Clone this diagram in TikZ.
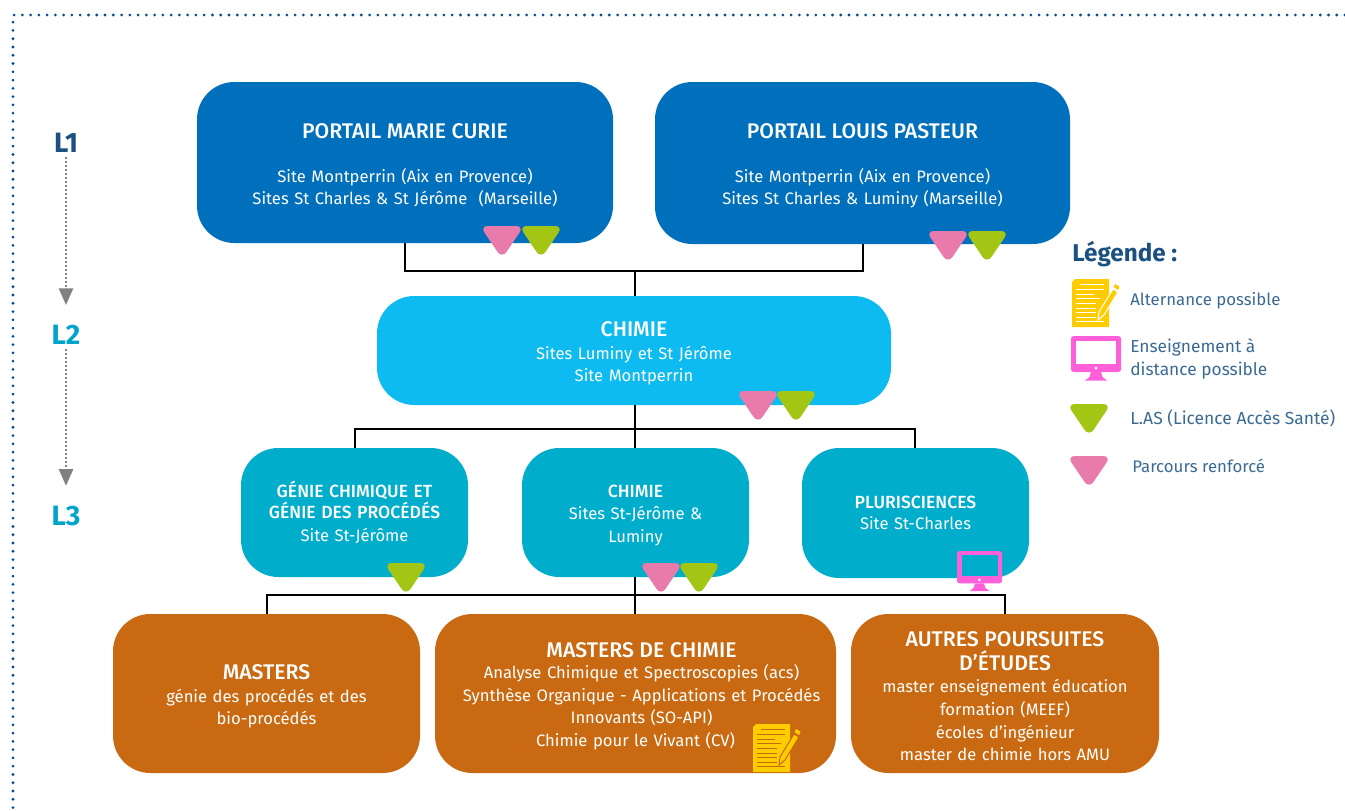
\documentclass[tikz,border=0pt]{standalone}
\usepackage{fontspec}
\setmainfont{Fira Sans}
\newfontfamily\medf{Fira Sans Medium}
\usetikzlibrary{arrows.meta}
\definecolor{cblue}{HTML}{0070BC}
\definecolor{ccyan}{HTML}{0DBBF0}
\definecolor{cteal}{HTML}{00AECC}
\definecolor{corange}{HTML}{C96A12}
\definecolor{cpink}{HTML}{E87BAC}
\definecolor{cgreen}{HTML}{A3C614}
\definecolor{cmag}{HTML}{FF5FD8}
\definecolor{cyel}{HTML}{FFCC00}
\definecolor{cnavy}{HTML}{1B5080}
\definecolor{cdot}{HTML}{0B4A8A}
\definecolor{cltext}{HTML}{3A6A94}
\definecolor{clev}{HTML}{00A3CC}
\newcommand{\ttl}[1]{{\fontsize{15.9}{16.9}\selectfont\medf #1}}
\newcommand{\tts}[1]{{\fontsize{13.2}{16.9}\selectfont\medf #1}}
\newcommand{\topsp}[1]{\rule{0pt}{#1}}
\newcommand{\mybox}[7]{%
  \pgfmathsetmacro{\bcx}{(#2+#3)/2}\pgfmathsetmacro{\bcy}{(#4+#5)/2}%
  \pgfmathsetmacro{\bwd}{(#3-#2)*0.75}\pgfmathsetmacro{\bht}{(#5-#4)*0.75}%
  \node[boxn,fill=#6,minimum width=\bwd pt,minimum height=\bht pt,text width=\bwd pt] (#1) at (\bcx,\bcy) {#7};}
\tikzset{
  x=0.75pt,y=-0.75pt,
  boxn/.style={rounded corners=28pt,inner sep=0pt,text=white,align=center,font=\fontsize{12.45}{16.9}\selectfont},
  bus/.style={draw=black,line width=1.5pt},
  lev/.style={font=\fontsize{21}{24}\selectfont\bfseries,inner sep=0pt},
  levarrow/.style={draw=gray,line width=1.8pt,dash pattern=on 1.5pt off 1.5pt,-{Triangle[length=12.5pt,width=10.5pt,fill=gray]}},
  leg/.style={anchor=west,text=cltext,inner sep=0pt,align=left,font=\fontsize{12.6}{17}\selectfont},
  pics/tri/.style={code={\fill[#1,rounded corners=6pt] (-22,-14) -- (22,-14) -- (0,18.5) -- cycle;}},
  pics/monitor/.style={code={
    \fill[cmag,rounded corners=2pt] (0,0) rectangle (50,36);
    \fill[#1] (5,4.5) rectangle (45,28);
    \fill[white] (25,32) circle (1.7);
    \fill[cmag] (20,36) -- (30,36) -- (31.5,41) -- (36,44.5) -- (14,44.5) -- (18.5,41) -- cycle;}},
  pics/docu/.style={code={
    \fill[cyel] (3,0) -- (37,0) -- (37,48) -- (0,48) -- (0,3) -- cycle;
    \foreach \yy/\a/\b in {5/8/32,10/4/32,15/4/22,19/4/28,24/4/24,29/4/24,33/4/24,38/4/24,42/4/32}
      {\draw[#1,line width=0.75pt] (\a,\yy) -- (\b,\yy);}
    \filldraw[fill=cyel,draw=#1,line width=0.75pt] (26,41) -- (27,33) -- (41,10) -- (46,13) -- (32,36) -- cycle;
    \fill[cyel] (43,5) -- (47.5,7.5) -- (46,11) -- (41.5,8) -- cycle;}},
}
\begin{document}
\begin{tikzpicture}
\useasboundingbox (0,0) rectangle (1345,810);
% dotted frame
\draw[cdot,line width=2.3pt,line cap=round,dash pattern=on 0pt off 6.2pt] (1345,15) -- (13,15) -- (13,810);

\coordinate (jl) at (405,271);
\coordinate (jm) at (635,271);
\coordinate (jr) at (863,271);
\coordinate (kl) at (355,429);
\coordinate (km) at (635,429);
\coordinate (kr) at (915,429);
\coordinate (ml) at (267,595);
\coordinate (mm) at (635,595);
\coordinate (mr) at (1005,595);

\mybox{pmc}{197}{613}{82}{243}{cblue}{\topsp{15.5pt}\ttl{PORTAIL MARIE CURIE}\\[16pt]Site Montperrin (Aix en Provence)\\Sites St Charles \& St Jérôme\ \ (Marseille)}
\mybox{plp}{655}{1070}{82}{244}{cblue}{\topsp{15.5pt}\ttl{PORTAIL LOUIS PASTEUR}\\[16pt]Site Montperrin (Aix en Provence)\\Sites St Charles \& Luminy (Marseille)}
\mybox{chl}{377}{891}{296}{405}{ccyan}{\topsp{15.5pt}\ttl{CHIMIE}\\[0.5pt]Sites Luminy et St Jérôme\\Site Montperrin}
\mybox{gc}{241}{468}{448}{577}{cteal}{\tts{GÉNIE CHIMIQUE ET}\\[-1pt]\tts{GÉNIE DES PROCÉDÉS}\\Site St-Jérôme}
\mybox{chm}{522}{749}{448}{577}{cteal}{\topsp{13.8pt}\tts{CHIMIE}\\[-0.5pt]Sites St-Jérôme \&\\Luminy}
\mybox{plu}{802}{1029}{448}{578}{cteal}{\tts{PLURISCIENCES}\\[-1.5pt]Site St-Charles}
\mybox{mas}{113}{420}{614}{773}{corange}{\topsp{15.5pt}\ttl{MASTERS}\\[0.5pt]génie des procédés et des\\bio-procédés}
\mybox{mac}{435}{836}{614}{773}{corange}{\topsp{15.5pt}\hspace*{9pt}\ttl{MASTERS DE CHIMIE}\\[-1pt]\hspace*{9pt}Analyse Chimique et Spectroscopies (acs)\\\hspace*{9pt}Synthèse Organique - Applications et Procédés\\\hspace*{9pt}Innovants (SO-API)\\Chimie pour le Vivant (CV)}
\mybox{aut}{851}{1159}{614}{773}{corange}{\topsp{15.5pt}\ttl{AUTRES POURSUITES}\\[0.75pt]\ttl{D’ÉTUDES}\\master enseignement éducation\\formation (MEEF)\\écoles d’ingénieur\\master de chimie hors AMU}

\draw[bus] (jl |- pmc.south) -- (jl) -- (jr) -- (jr |- plp.south);
\draw[bus] (jm) -- (jm |- chl.north);
\draw[bus] (km |- chl.south) -- (km);
\draw[bus] (kl |- gc.north) -- (kl) -- (kr) -- (kr |- plu.north);
\draw[bus] (km) -- (km |- chm.north);
\draw[bus] (mm |- chm.south) -- (mm);
\draw[bus] (ml |- mas.north) -- (ml) -- (mr) -- (mr |- aut.north);
\draw[bus] (mm) -- (mm |- mac.north);

% badges
\pic at (502,240) {tri=cpink};
\pic at (541,240) {tri=cgreen};
\pic at (948,245) {tri=cpink};
\pic at (987,245) {tri=cgreen};
\pic at (758,405) {tri=cpink};
\pic at (796,405) {tri=cgreen};
\pic at (406,577) {tri=cgreen};
\pic at (661,577) {tri=cpink};
\pic at (699,577) {tri=cgreen};
\pic[scale=0.9] at (957,551) {monitor=cteal};
\pic at (753,724) {docu=corange};

% levels
\node[lev,text=cnavy] (l1) at (66,143) {L1};
\node[lev,text=clev] (l2) at (66,335) {L2};
\node[lev,text=clev] (l3) at (66,516) {L3};
\draw[levarrow,shorten <=3pt,shorten >=15pt] (l1) -- (l2);
\draw[levarrow,shorten <=3pt,shorten >=15pt] (l2) -- (l3);

% legend
\node[anchor=west,inner sep=0pt,text=cnavy,font=\fontsize{18.2}{20}\selectfont\bfseries] (lt) at (1072,254) {Légende :};
\pic at (1072,279) {docu=white};
\node[leg] (t1) at (1130,301) {Alternance possible};
\pic at (1071,336) {monitor=white};
\node[leg,font=\fontsize{13}{17}\selectfont] (t2) at (1130,359) {Enseignement à\\distance possible};
\pic at (1089,418) {tri=cgreen};
\node[leg,font=\fontsize{13.1}{17}\selectfont] (t3) at (1130,418) {L.AS (Licence Accès Santé)};
\pic at (1089,470) {tri=cpink};
\node[leg] (t4) at (1132,466) {Parcours renforcé};
\end{tikzpicture}
\end{document}
